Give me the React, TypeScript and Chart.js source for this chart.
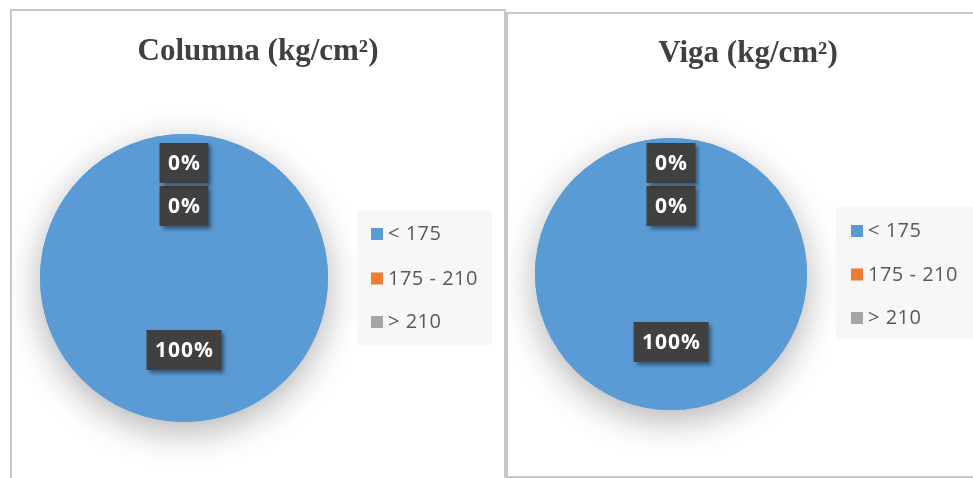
import React, { useEffect, useRef } from "react";
import { Chart, registerables } from "chart.js";

Chart.register(...registerables);

// ---------------- data ----------------
const categories = ["< 175", "175 - 210", "> 210"];
const columnaValues = [100, 0, 0];
const vigaValues = [100, 0, 0];
const sliceColors = ["#5B9BD5", "#ED7D31", "#A5A5A5"];
const columnaTitle = "Columna (kg/cm²)";
const vigaTitle = "Viga (kg/cm²)";

// ---------------- layout (page coordinates) ----------------
type Layout = {
  left: number; top: number; width: number; height: number;
  cx: number; cy: number; r: number;
  titleX: number; titleBase: number;
  legX: number; legY: number; legW: number; legH: number;
  markerX: number; textX: number; rows: number[];
};

const BORDER = 2;

const leftLayout: Layout = {
  left: 10, top: 9, width: 496, height: 480,
  cx: 184, cy: 278, r: 144,
  titleX: 258, titleBase: 59.5,
  legX: 357, legY: 210, legW: 135, legH: 135,
  markerX: 371, textX: 388, rows: [240, 284.5, 328],
};

const rightLayout: Layout = {
  left: 506, top: 12, width: 480, height: 466,
  cx: 671, cy: 274, r: 136,
  titleX: 748, titleBase: 61.5,
  legX: 836, legY: 207, legW: 150, legH: 132,
  markerX: 851, textX: 868, rows: [237, 280.5, 324],
};

function PiePanel({ title, values, layout }: { title: string; values: number[]; layout: Layout }) {
  const ref = useRef<HTMLCanvasElement | null>(null);
  const W = layout.width - BORDER * 2;
  const H = layout.height - BORDER * 2;
  const ox = layout.left + BORDER;
  const oy = layout.top + BORDER;

  useEffect(() => {
    const canvas = ref.current;
    if (!canvas) return;
    const cxC = layout.cx - ox;
    const cyC = layout.cy - oy;
    const r = layout.r;

    const shadowPlugin = {
      id: "pieShadow",
      beforeDatasetsDraw(chart: any) {
        const meta = chart.getDatasetMeta(0);
        const arc = meta.data[0];
        if (!arc) return;
        const ctx = chart.ctx;
        ctx.save();
        ctx.shadowColor = "rgba(0,0,0,0.30)";
        ctx.shadowBlur = 36;
        ctx.shadowOffsetY = 10;
        ctx.beginPath();
        ctx.arc(arc.x, arc.y, arc.outerRadius, 0, Math.PI * 2);
        ctx.fillStyle = sliceColors[0];
        ctx.fill();
        ctx.restore();
      },
    };

    const titlePlugin = {
      id: "panelTitle",
      afterDraw(chart: any) {
        const ctx = chart.ctx;
        ctx.save();
        ctx.font = "bold 31px 'Liberation Serif'";
        ctx.fillStyle = "#404040";
        ctx.textAlign = "center";
        ctx.textBaseline = "alphabetic";
        ctx.fillText(title, layout.titleX - ox, layout.titleBase - oy);
        ctx.restore();
      },
    };

    const legendPlugin = {
      id: "panelLegend",
      afterDraw(chart: any) {
        const ctx = chart.ctx;
        const labels: string[] = chart.data.labels;
        const colors: string[] = chart.data.datasets[0].backgroundColor;
        ctx.save();
        ctx.fillStyle = "#f7f7f7";
        ctx.fillRect(layout.legX - ox, layout.legY - oy, layout.legW, layout.legH);
        ctx.font = "20px 'Open Sans'";
        (ctx as any).letterSpacing = "0.5px";
        ctx.textBaseline = "alphabetic";
        ctx.textAlign = "left";
        labels.forEach((lab, i) => {
          const base = layout.rows[i] - oy;
          ctx.fillStyle = colors[i];
          ctx.fillRect(layout.markerX - ox, base - 12, 12, 12);
          ctx.fillStyle = "#595959";
          ctx.fillText(lab, layout.textX - ox, base);
        });
        ctx.restore();
      },
    };

    const dataLabelPlugin = {
      id: "dataLabels",
      afterDatasetsDraw(chart: any) {
        const ctx = chart.ctx;
        const ds = chart.data.datasets[0];
        const vals: number[] = ds.data;
        const total = vals.reduce((a, b) => a + b, 0) || 1;
        const meta = chart.getDatasetMeta(0);
        ctx.save();
        ctx.font = "bold 21px 'Open Sans'";
        (ctx as any).letterSpacing = "1px";
        const padX = 8;
        const boxH = 40;
        const gap = 3;
        const placed: { x: number; y: number; w: number; h: number }[] = [];
        meta.data.forEach((arc: any, i: number) => {
          const pct = Math.round((vals[i] / total) * 100) + "%";
          const p = arc.getCenterPoint();
          const tw = ctx.measureText(pct).width;
          const w = tw + padX * 2;
          let cx = p.x;
          let cy = p.y;
          let moved = true;
          let guard = 0;
          while (moved && guard < 10) {
            moved = false;
            guard++;
            for (const b of placed) {
              const overlapX = Math.abs(cx - b.x) < (w + b.w) / 2;
              const overlapY = Math.abs(cy - b.y) < (boxH + b.h) / 2 + gap;
              if (overlapX && overlapY) {
                cy = b.y - (b.h / 2 + gap + boxH / 2);
                moved = true;
              }
            }
          }
          placed.push({ x: cx, y: cy, w, h: boxH });
          ctx.save();
          ctx.shadowColor = "rgba(0,0,0,0.45)";
          ctx.shadowBlur = 4;
          ctx.shadowOffsetX = 3;
          ctx.shadowOffsetY = 3;
          ctx.fillStyle = "#404040";
          ctx.fillRect(cx - w / 2, cy - boxH / 2, w, boxH);
          ctx.restore();
          ctx.fillStyle = "#ffffff";
          ctx.textAlign = "center";
          ctx.textBaseline = "middle";
          ctx.fillText(pct, cx + 0.5, cy + 1.5);
        });
        ctx.restore();
      },
    };

    const chart = new Chart(canvas, {
      type: "pie",
      data: {
        labels: categories,
        datasets: [
          {
            data: values,
            backgroundColor: sliceColors,
            borderWidth: 0,
            hoverOffset: 0,
            offset: 0,
          } as any,
        ],
      },
      options: {
        responsive: false,
        animation: false,
        layout: {
          padding: {
            left: cxC - r,
            top: cyC - r,
            right: W - (cxC + r),
            bottom: H - (cyC + r),
          },
        },
        plugins: {
          legend: { display: false },
          title: { display: false },
          tooltip: { enabled: false },
        },
        events: [],
      } as any,
      plugins: [shadowPlugin, dataLabelPlugin, titlePlugin, legendPlugin],
    });
    return () => chart.destroy();
  }, [title, values, layout]);

  return (
    <div
      style={{
        position: "absolute",
        left: layout.left,
        top: layout.top,
        width: layout.width,
        height: layout.height,
        boxSizing: "border-box",
        border: `${BORDER}px solid #c8c8c8`,
        background: "#ffffff",
      }}
    >
      <canvas
        ref={ref}
        width={W}
        height={H}
        style={{ position: "absolute", left: 0, top: 0, width: W, height: H, display: "block" }}
      />
    </div>
  );
}

export default function App() {
  return (
    <div
      style={{
        position: "absolute",
        left: 0,
        top: 0,
        width: 973,
        height: 478,
        overflow: "hidden",
        background: "#ffffff",
      }}
    >
      <PiePanel title={columnaTitle} values={columnaValues} layout={leftLayout} />
      <PiePanel title={vigaTitle} values={vigaValues} layout={rightLayout} />
    </div>
  );
}
